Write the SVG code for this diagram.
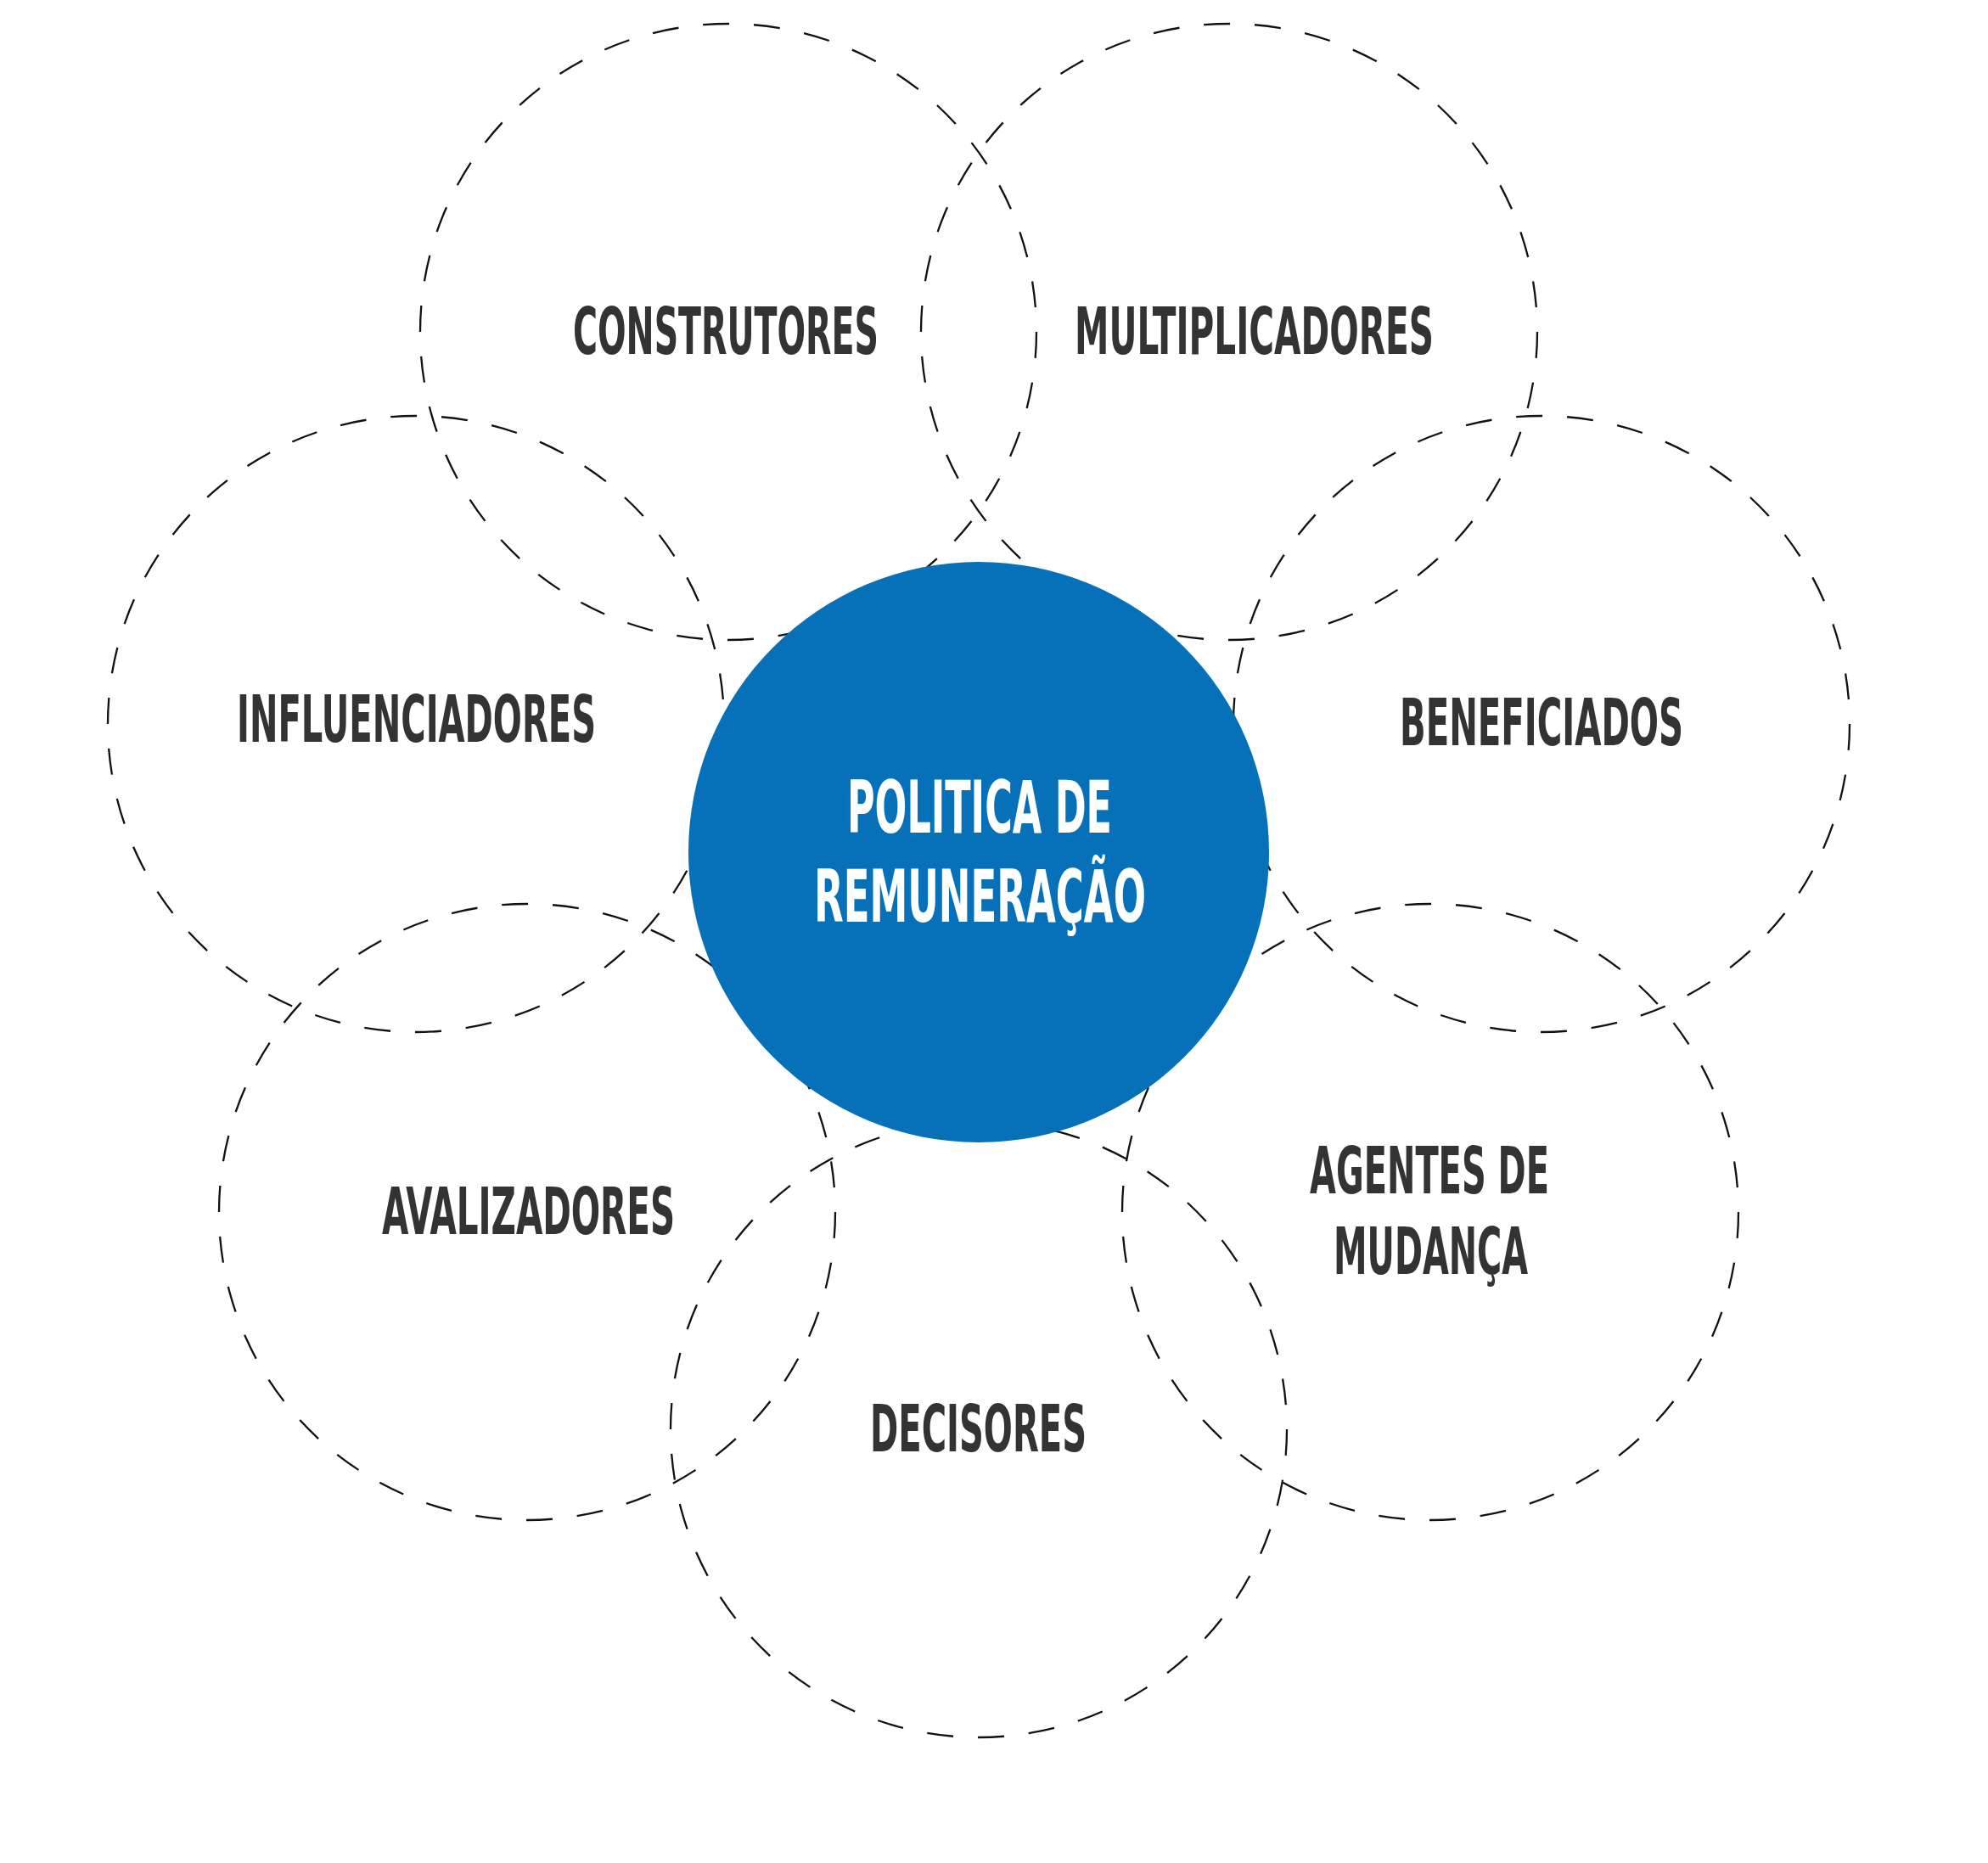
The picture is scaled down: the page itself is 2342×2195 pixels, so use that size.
<svg xmlns="http://www.w3.org/2000/svg" width="2342" height="2195" viewBox="0 0 2342 2195">
  <style>
    .ring { fill: none; stroke: #111111; stroke-width: 2.3; stroke-dasharray: 31 29; }
    .lbl { font-family: "Liberation Sans Narrow", "DejaVu Sans Condensed", "Liberation Sans", sans-serif; font-weight: bold; font-size: 76px; fill: #333333; }
    .core { fill: #0671b8; }
    .corelbl { font-family: "Liberation Sans Narrow", "DejaVu Sans Condensed", "Liberation Sans", sans-serif; font-weight: bold; font-size: 86px; fill: #ffffff; }
  </style>
  <rect x="0" y="0" width="2342" height="2195" fill="#ffffff"/>

  <g id="node-construtores">
    <circle class="ring" cx="858" cy="391" r="363"/>
    <text class="lbl" x="675" y="417" textLength="360" lengthAdjust="spacingAndGlyphs">CONSTRUTORES</text>
  </g>
  <g id="node-multiplicadores">
    <circle class="ring" cx="1448" cy="391" r="363"/>
    <text class="lbl" x="1266" y="417" textLength="423" lengthAdjust="spacingAndGlyphs">MULTIPLICADORES</text>
  </g>
  <g id="node-influenciadores">
    <circle class="ring" cx="490" cy="853" r="363"/>
    <text class="lbl" x="279" y="874" textLength="423" lengthAdjust="spacingAndGlyphs">INFLUENCIADORES</text>
  </g>
  <g id="node-beneficiados">
    <circle class="ring" cx="1816" cy="853" r="363"/>
    <text class="lbl" x="1649" y="878" textLength="334" lengthAdjust="spacingAndGlyphs">BENEFICIADOS</text>
  </g>
  <g id="node-avalizadores">
    <circle class="ring" cx="621" cy="1428" r="363"/>
    <text class="lbl" x="450" y="1454" textLength="345" lengthAdjust="spacingAndGlyphs">AVALIZADORES</text>
  </g>
  <g id="node-agentes">
    <circle class="ring" cx="1685" cy="1428" r="363"/>
    <text class="lbl" x="1543" y="1406" textLength="282" lengthAdjust="spacingAndGlyphs">AGENTES DE</text>
    <text class="lbl" x="1571" y="1501" textLength="229" lengthAdjust="spacingAndGlyphs">MUDANÇA</text>
  </g>
  <g id="node-decisores">
    <circle class="ring" cx="1153" cy="1684" r="363"/>
    <text class="lbl" x="1025" y="1710" textLength="255" lengthAdjust="spacingAndGlyphs">DECISORES</text>
  </g>

  <g id="node-politica">
    <circle class="core" cx="1153" cy="1004" r="342"/>
    <text class="corelbl" x="998" y="981" textLength="312" lengthAdjust="spacingAndGlyphs">POLITICA DE</text>
    <text class="corelbl" x="959" y="1086" textLength="391" lengthAdjust="spacingAndGlyphs">REMUNERAÇÃO</text>
  </g>
</svg>
